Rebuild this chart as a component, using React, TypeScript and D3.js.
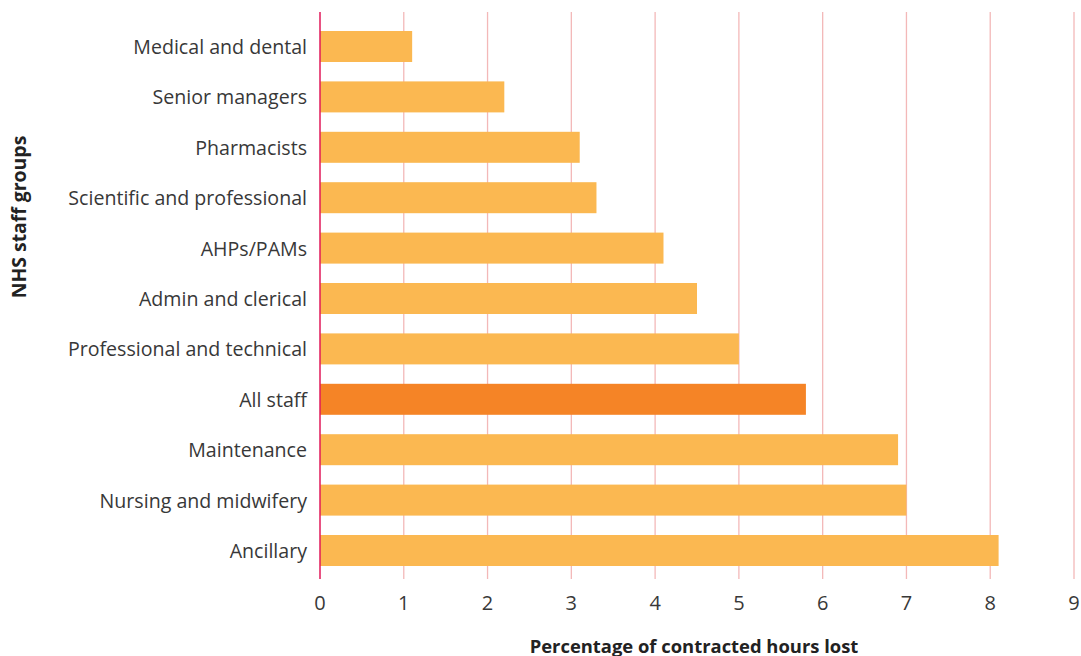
import React from "react";
import * as d3 from "d3";

const categories = [
  "Medical and dental",
  "Senior managers",
  "Pharmacists",
  "Scientific and professional",
  "AHPs/PAMs",
  "Admin and clerical",
  "Professional and technical",
  "All staff",
  "Maintenance",
  "Nursing and midwifery",
  "Ancillary",
];
const hoursLost = [1.1, 2.2, 3.1, 3.3, 4.1, 4.5, 5.0, 5.8, 6.9, 7.0, 8.1];
const highlighted = "All staff";
const xTicks = [0, 1, 2, 3, 4, 5, 6, 7, 8, 9];

const W = 1081;
const H = 656;
const FONT = "'Open Sans', 'DejaVu Sans', sans-serif";

export default function App() {
  const x = d3.scaleLinear().domain([0, 9]).range([320, 1074]);
  const y = d3
    .scaleBand<string>()
    .domain(categories)
    .range([21.3, 575.7])
    .paddingInner(0.385)
    .paddingOuter(0.1925);
  const plotTop = 12;
  const plotBottom = 579;

  return (
    <svg
      width={W}
      height={H}
      style={{ position: "absolute", left: 0, top: 0, background: "#fff" }}
      fontFamily={FONT}
    >
      {xTicks.slice(1).map((t) => (
        <line
          key={"g" + t}
          x1={x(t)}
          x2={x(t)}
          y1={plotTop}
          y2={plotBottom}
          stroke="#f3b8b8"
          strokeWidth={1.3}
        />
      ))}
      {categories.map((c, i) => (
        <rect
          key={c}
          x={x(0)}
          y={y(c)}
          width={x(hoursLost[i]) - x(0)}
          height={y.bandwidth()}
          fill={c === highlighted ? "#f58426" : "#fbb851"}
        />
      ))}
      <line
        x1={x(0)}
        x2={x(0)}
        y1={plotTop}
        y2={plotBottom}
        stroke="#e0185a"
        strokeWidth={1.5}
      />
      {categories.map((c) => (
        <text
          key={"l" + c}
          x={307}
          y={(y(c) as number) + y.bandwidth() / 2}
          textAnchor="end"
          dominantBaseline="central"
          fontSize={19.6}
          fill="#383838"
        >
          {c}
        </text>
      ))}
      {xTicks.map((t) => (
        <text
          key={"t" + t}
          x={x(t)}
          y={602}
          textAnchor="middle"
          dominantBaseline="central"
          fontSize={20}
          fill="#383838"
        >
          {t}
        </text>
      ))}
      <text
        x={694}
        y={645}
        textAnchor="middle"
        dominantBaseline="central"
        fontSize={18.4}
        fontWeight="bold"
        fill="#222"
      >
        Percentage of contracted hours lost
      </text>
      <text
        transform={`translate(18, 217) rotate(-90)`}
        textAnchor="middle"
        dominantBaseline="central"
        fontSize={19.4}
        fontWeight="bold"
        fill="#222"
      >
        NHS staff groups
      </text>
    </svg>
  );
}
